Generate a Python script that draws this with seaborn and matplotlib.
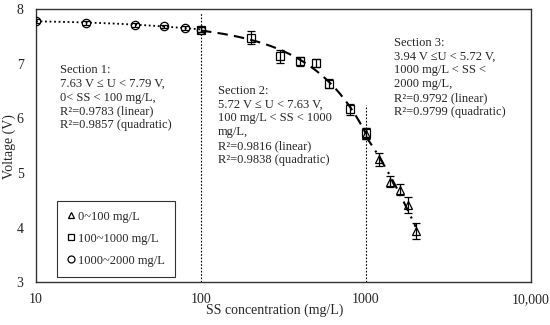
import numpy as np
import pandas as pd
import matplotlib
matplotlib.use("Agg")
import matplotlib.pyplot as plt
import seaborn as sns
from matplotlib.lines import Line2D

# Section 1 (circles)
ss1 = [10, 20, 40, 60, 80, 100]
v1 = [7.79, 7.75, 7.72, 7.69, 7.66, 7.63]
e1 = [0.03, 0.03, 0.04, 0.03, 0.03, 0.04]

# Section 2 (squares)
ss2 = [100, 200, 300, 400, 500, 600, 800, 1000]
v2 = [7.63, 7.48, 7.14, 7.05, 7.02, 6.64, 6.17, 5.73]
e2 = [0.05, 0.12, 0.12, 0.08, 0.08, 0.08, 0.10, 0.10]

# Section 3 (triangles)
ss3 = [1000, 1200, 1400, 1600, 1800, 2000]
v3 = [5.72, 5.25, 4.84, 4.69, 4.41, 3.94]
e3 = [0.10, 0.12, 0.10, 0.10, 0.15, 0.15]

legend_labels = ["0~100 mg/L", "100~1000 mg/L", "1000~2000 mg/L"]

sec1_text = ("Section 1:\n7.63 V \u2264 U < 7.79 V,\n0< SS < 100 mg/L,\n"
             "R\u00b2=0.9783 (linear)\nR\u00b2=0.9857 (quadratic)")
sec2_text = ("Section 2:\n5.72 V \u2264 U < 7.63 V,\n100 mg/L < SS < 1000\nmg/L,\n"
             "R\u00b2=0.9816 (linear)\nR\u00b2=0.9838 (quadratic)")
sec3_text = ("Section 3:\n3.94 V \u2264U < 5.72 V,\n1000 mg/L < SS <\n2000 mg/L,\n"
             "R\u00b2=0.9792 (linear)\nR\u00b2=0.9799 (quadratic)")

sns.set_theme(style="white")
plt.rcParams['font.family'] = ['Liberation Serif', 'DejaVu Serif']
plt.rcParams['font.size'] = 9

fig = plt.figure(figsize=(5.5, 3.25), dpi=100)
ax = fig.add_axes([0.0655, 0.132, 0.9, 0.839])

# quadratic trend lines for each section
def trend(ss, v):
    coef = np.polyfit(ss, v, 2)
    xs = np.linspace(min(ss), max(ss), 200)
    return pd.DataFrame({"SS": xs, "V": np.polyval(coef, xs)})

sns.lineplot(data=trend(ss1, v1), x="SS", y="V", ax=ax, color="black",
             linestyle=(0, (1, 1.5)), linewidth=1.3)
sns.lineplot(data=trend(ss2, v2), x="SS", y="V", ax=ax, color="black",
             linestyle=(0, (5, 3)), linewidth=1.5)
sns.lineplot(data=trend(ss3, v3), x="SS", y="V", ax=ax, color="black",
             linestyle=(0, (5, 3, 1, 3)), linewidth=1.5)

# data points with error bars
for ss, v, e, m in [(ss1, v1, e1, "o"), (ss2, v2, e2, "s"), (ss3, v3, e3, "^")]:
    ax.errorbar(ss, v, yerr=e, fmt=m, mfc="none", mec="black", ecolor="black",
                ms=6, mew=0.9, elinewidth=0.9, capsize=3, capthick=0.9, zorder=3)

# section boundaries
ax.vlines(100, 3, 7.95, colors="black", linestyles=(0, (1.5, 1.5)), linewidth=0.8)
ax.vlines(1000, 3, 6.25, colors="black", linestyles=(0, (1.5, 1.5)), linewidth=0.8)

ax.set_xscale("log")
ax.set_xlim(10, 10000)
ax.set_ylim(3, 8)
ax.set_xticks([10, 100, 1000, 10000])
ax.set_xticklabels(["10", "100", "1000", "10,000"])
ax.minorticks_off()
ax.set_yticks([3, 4, 5, 6, 7, 8])
ax.tick_params(axis="y", direction="out", length=4, width=0.8, labelsize=10, pad=5)
ax.tick_params(axis="x", length=0, labelsize=10, pad=8)
for lab in ax.get_yticklabels():
    lab.set_color("#222222")
for sp in ax.spines.values():
    sp.set_color("#333333")
    sp.set_linewidth(1.0)

ax.set_xlabel("")
ax.set_ylabel("")
fig.text(0.5, 0.045, "SS concentration (mg/L)", ha="center", va="center", fontsize=10)
fig.text(0.017, 0.55, "Voltage (V)", ha="center", va="center", rotation=90, fontsize=10)

ax.text(14.0, 7.0, sec1_text, fontsize=9, va="top", linespacing=1.2)
ax.text(127, 6.62, sec2_text, fontsize=9, va="top", linespacing=1.2)
ax.text(1480, 7.5, sec3_text, fontsize=9, va="top", linespacing=1.2)

handles = [Line2D([], [], marker=m, ls="none", mfc="none", mec="black", ms=5, mew=0.9)
           for m in ["^", "s", "o"]]
leg = ax.legend(handles, legend_labels, loc="lower left", bbox_to_anchor=(0.042, 0.02),
                frameon=True, fancybox=False, fontsize=9, handlelength=0.6,
                handletextpad=0.3, labelspacing=0.8, borderpad=0.8, borderaxespad=0)
leg.get_frame().set_edgecolor("black")
leg.get_frame().set_linewidth(0.8)

fig.savefig("out.png", dpi=100)
